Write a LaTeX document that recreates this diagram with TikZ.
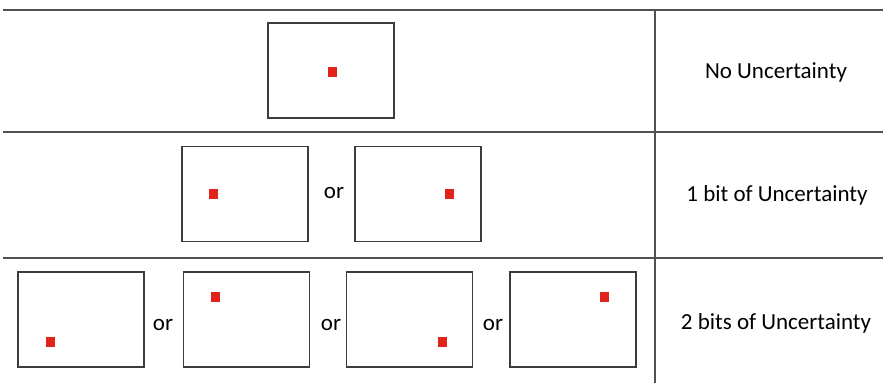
\documentclass[tikz,border=0pt]{standalone}
\usepackage{fontspec}
\setmainfont{Carlito}
\usetikzlibrary{positioning}
\definecolor{ink}    {HTML}{3C3C3C}
\definecolor{rulegr} {HTML}{505050}
\definecolor{dotred} {HTML}{E2231A}
\tikzset{
  every node/.style={font=\fontsize{23}{27}\selectfont},
  % --- nodes
  frame/.style = {draw=ink, line width=1.3pt, fill=white, inner sep=0pt,
                  minimum width=126pt, minimum height=95pt},
  spot/.style  = {fill=dotred, inner sep=0pt, minimum width=9pt, minimum height=10pt},
  orw/.style   = {inner sep=0pt, text=black},
  lbl/.style   = {inner sep=0pt, anchor=base, text=black},
  % --- lines
  gridln/.style= {draw=rulegr, line width=1.5pt},
}
\begin{document}
\begin{tikzpicture}[x=1pt,y=-1pt]
  \useasboundingbox (0,0) rectangle (883,383);
  % table rules
  \draw[gridln] (3,10) -- (883,10);
  \draw[gridln] (3,132) -- (883,132);
  \draw[gridln] (3,258) -- (883,258);
  \draw[gridln] (655,10) -- (655,383);
  % row 1
  \node[frame] (f0) at (331,70.5) {};
  \node[spot]  (s0) at (332,72) {};
  \node[lbl]   (l0) at (776,78) {No Uncertainty};
  % row 2
  \node[frame] (f1a) at (245,194) {};
  \node[frame] (f1b) at (418,194) {};
  \node[spot]  (s1a) at (213,194) {};
  \node[spot]  (s1b) at (449,194) {};
  \node[orw]   (o1)  at (334,193) {or};
  \node[lbl]   (l1)  at (777,201) {1 bit of Uncertainty};
  % row 3
  \node[frame] (f2a) at (81,319.5) {};
  \node[frame] (f2b) at (246.5,319.5) {};
  \node[frame] (f2c) at (409.5,319.5) {};
  \node[frame] (f2d) at (573,319.5) {};
  \node[spot]  (s2a) at (50,342) {};
  \node[spot]  (s2b) at (215,297) {};
  \node[spot]  (s2c) at (442,342) {};
  \node[spot]  (s2d) at (604,297) {};
  \node[orw]   (o2a) at (163,325) {or};
  \node[orw]   (o2b) at (331,325) {or};
  \node[orw]   (o2c) at (493,325) {or};
  \node[lbl]   (l2)  at (776,329) {2 bits of Uncertainty};
\end{tikzpicture}
\end{document}
